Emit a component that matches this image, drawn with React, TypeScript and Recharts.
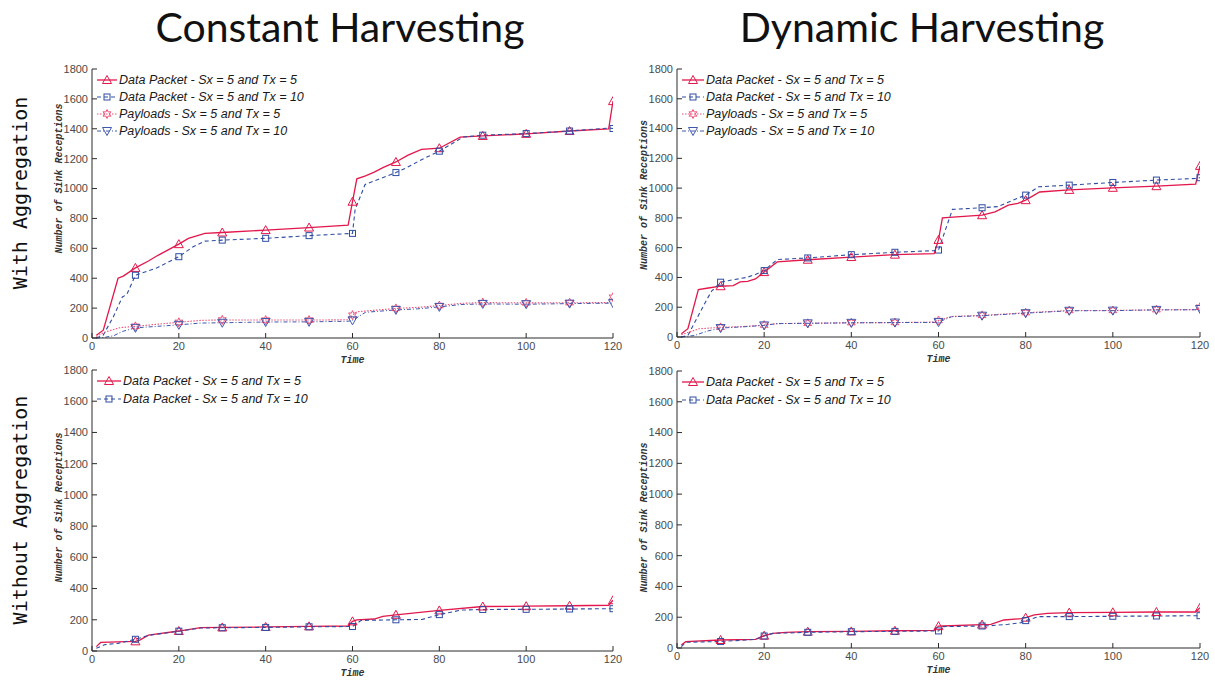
import { LineChart, Line, XAxis, YAxis, Label } from 'recharts';

type Pt = [number, number];

const RED = '#e3174b';
const BLUE = '#2f4ea3';
const PINK = '#f0527a';
const NAVY = '#3f58ad';
const AXIS = '#2b2b2b';

const xTicks = [0, 20, 40, 60, 80, 100, 120];
const yTicks = [0, 200, 400, 600, 800, 1000, 1200, 1400, 1600, 1800];

// Constant harvesting, with aggregation
const constAggPkt5: Pt[] = [[1, 18], [2.6, 52], [6, 400], [7.2, 414], [10, 469], [13, 515], [15.3, 555], [20, 628], [22.2, 666], [26, 700], [30, 706], [40, 722], [50, 739], [59, 755], [60, 912], [61, 1065], [63, 1085], [65, 1110], [67, 1140], [70, 1178], [72.8, 1224], [75.9, 1262], [80, 1270], [84.8, 1344], [90, 1352], [100, 1366], [110, 1385], [119, 1400], [120, 1585]];
const constAggPkt10: Pt[] = [[1, 0], [2.6, 20], [4.9, 141], [7, 275], [8, 290], [10, 420], [15, 470], [20, 544], [23.3, 611], [26, 648], [30, 655], [40, 667], [50, 685], [60, 700], [60.6, 860], [62.9, 1027], [70, 1107], [72.5, 1140], [76, 1195], [80, 1250], [85.5, 1345], [90, 1357], [100, 1368], [110, 1385], [119, 1405], [120, 1402]];
const constAggPay5: Pt[] = [[1, 10], [3, 40], [6.4, 69], [10, 78], [15, 92], [20, 105], [25, 118], [30, 121], [40, 120], [50, 120], [59, 122], [60, 153], [61, 176], [70, 198], [75, 205], [80, 217], [85, 232], [90, 237], [100, 235], [110, 236], [119, 237], [120, 273]];
const constAggPay10: Pt[] = [[1, 0], [3, 5], [5, 15], [7, 44], [10, 68], [15, 78], [20, 88], [25, 100], [30, 102], [40, 107], [50, 108], [59, 112], [60, 118], [63, 172], [70, 188], [75, 195], [80, 208], [85, 224], [90, 228], [100, 226], [110, 230], [119, 233], [120, 233]];

// Dynamic harvesting, with aggregation
const dynAggPkt5: Pt[] = [[1, 22], [2.5, 56], [4.9, 318], [7.2, 329], [10, 341], [12.9, 345], [14.5, 370], [16.2, 374], [18, 390], [20, 436], [23, 504], [30, 519], [40, 537], [50, 553], [59, 560], [60, 652], [60.9, 800], [70, 818], [73, 840], [76, 885], [78.2, 897], [80, 919], [83.2, 974], [90, 988], [100, 1002], [110, 1013], [119, 1027], [120, 1149]];
const dynAggPkt10: Pt[] = [[1, 0], [2.5, 10], [5, 150], [7, 260], [8, 310], [10, 368], [13, 385], [16, 400], [18, 420], [20, 446], [23, 520], [30, 531], [40, 553], [50, 569], [59, 580], [60, 584], [63.2, 857], [70, 868], [73.6, 876], [78, 930], [80, 953], [83, 1009], [90, 1020], [100, 1038], [110, 1054], [119, 1065], [120, 1070]];
const dynAggPay5: Pt[] = [[1, 15], [5, 55], [10, 65], [15, 70], [20, 80], [23, 90], [30, 92], [40, 96], [50, 97], [59, 100], [60, 111], [63, 138], [70, 145], [80, 163], [90, 178], [100, 178], [110, 183], [119, 184], [120, 200]];
const dynAggPay10: Pt[] = [[1, 0], [4, 10], [7, 40], [10, 60], [15, 68], [20, 78], [23, 90], [30, 92], [40, 95], [50, 97], [59, 98], [60, 100], [63, 136], [70, 143], [80, 160], [90, 176], [100, 177], [110, 182], [119, 183], [120, 188]];

// Constant harvesting, without aggregation
const constNoPkt5: Pt[] = [[1, 28], [2, 55], [10, 62], [11, 70], [13, 102], [20, 128], [25, 150], [30, 151], [40, 154], [50, 158], [59, 160], [60, 190], [61, 200], [65, 205], [67, 222], [70, 232], [80, 260], [90, 285], [100, 287], [110, 290], [119, 293], [120, 325]];
const constNoPkt10: Pt[] = [[1, 17], [3, 41], [6, 49], [10, 75], [13, 100], [20, 127], [25, 147], [30, 149], [40, 151], [50, 155], [60, 157], [62, 196], [70, 200], [76, 202], [80, 233], [85, 262], [90, 266], [100, 267], [110, 269], [120, 271]];

// Dynamic harvesting, without aggregation
const dynNoPkt5: Pt[] = [[1, 20], [2, 41], [10, 52], [18, 56], [20, 80], [22, 95], [25, 102], [30, 106], [40, 108], [50, 112], [59, 115], [60, 142], [61, 143], [70, 152], [72, 154], [75, 182], [79, 191], [80, 197], [82, 215], [85, 225], [90, 230], [100, 232], [110, 234], [119, 234], [120, 262]];
const dynNoPkt10: Pt[] = [[1, 9], [2, 37], [10, 42], [18, 56], [20, 78], [22, 95], [30, 102], [40, 106], [50, 108], [60, 111], [61, 139], [70, 143], [72, 145], [76, 154], [79, 165], [80, 178], [83, 204], [90, 204], [100, 206], [110, 208], [120, 210]];

type MarkerKind = 'tri' | 'sq' | 'hex' | 'tridown';

interface Series {
  name: string;
  data: Pt[];
  color: string;
  dash?: string;
  width: number;
  marker: MarkerKind;
}

const pkt5 = (data: Pt[]): Series => ({ name: 'Data Packet - Sx = 5 and Tx = 5', data, color: RED, width: 1.3, marker: 'tri' });
const pkt10 = (data: Pt[]): Series => ({ name: 'Data Packet - Sx = 5 and Tx = 10', data, color: BLUE, dash: '4 3', width: 1.1, marker: 'sq' });
const pay5 = (data: Pt[]): Series => ({ name: 'Payloads - Sx = 5 and Tx = 5', data, color: PINK, dash: '1.5 1.5', width: 1.1, marker: 'hex' });
const pay10 = (data: Pt[]): Series => ({ name: 'Payloads - Sx = 5 and Tx = 10', data, color: NAVY, dash: '4 2 1 2', width: 1, marker: 'tridown' });

function Marker({ kind, cx, cy, color }: { kind: MarkerKind; cx: number; cy: number; color: string }) {
  const common = { fill: 'none', stroke: color, strokeWidth: 1 };
  if (kind === 'tri') {
    return <polygon {...common} points={`${cx},${cy - 4.5} ${cx - 4.5},${cy + 3.5} ${cx + 4.5},${cy + 3.5}`} />;
  }
  if (kind === 'tridown') {
    return <polygon {...common} points={`${cx},${cy + 4.5} ${cx - 4.5},${cy - 3.5} ${cx + 4.5},${cy - 3.5}`} />;
  }
  if (kind === 'sq') {
    return <rect {...common} x={cx - 3} y={cy - 3} width={6} height={6} />;
  }
  // six-pointed star
  const pts: string[] = [];
  for (let i = 0; i < 12; i++) {
    const r = i % 2 === 0 ? 4.5 : 2.3;
    const a = (Math.PI / 6) * i - Math.PI / 2;
    pts.push(`${cx + r * Math.cos(a)},${cy + r * Math.sin(a)}`);
  }
  return <polygon {...common} points={pts.join(' ')} />;
}

const EmptyTick = () => <g />;

const tickStyle = { fill: '#4a4a4a', fontSize: 11, fontFamily: 'Liberation Sans, Arial, sans-serif' };
const axisLabelStyle = {
  fill: '#333',
  fontSize: 10,
  fontFamily: 'Liberation Mono, Courier New, monospace',
  fontStyle: 'italic',
  fontWeight: 'bold',
  textAnchor: 'middle' as const,
};

interface PanelProps {
  x: number;
  y: number;
  w: number;
  h: number;
  series: Series[];
  legendRow: number;
  legendLine: number;
  labelShift: number;
}

function Panel({ x, y, w, h, series, legendRow, legendLine, labelShift }: PanelProps) {
  const padL = 50;
  const padT = 10;
  const padR = 10;
  const padB = 36;

  // y-axis title, drawn rotated beside the tick labels
  const yTitle = () => {
    const lx = padL - 33;
    const ly = padT + h / 2 + labelShift;
    return (
      <text x={lx} y={ly} transform={`rotate(-90, ${lx}, ${ly})`} dominantBaseline="central" style={axisLabelStyle}>
        Number of Sink Receptions
      </text>
    );
  };

  return (
    <div style={{ position: 'absolute', left: x - padL, top: y - padT }}>
      <LineChart width={w + padL + padR} height={h + padT + padB} margin={{ top: padT, right: padR, bottom: 0, left: 0 }}>
        <XAxis xAxisId="b" dataKey="t" type="number" domain={[0, 120]} ticks={xTicks} interval={0}
          height={padB} tickSize={-5} tickMargin={9} stroke={AXIS} tick={tickStyle} allowDataOverflow>
          <Label value="Time" position="insideBottom" offset={11} style={axisLabelStyle} />
        </XAxis>
        <XAxis xAxisId="t" dataKey="t" type="number" domain={[0, 120]} ticks={xTicks} interval={0}
          orientation="top" height={0} tickSize={-5} stroke={AXIS} tick={EmptyTick} />
        <YAxis yAxisId="l" type="number" domain={[0, 1800]} ticks={yTicks} interval={0}
          width={padL} tickSize={-5} tickMargin={9} stroke={AXIS} tick={tickStyle}>
          <Label content={yTitle} />
        </YAxis>
        <YAxis yAxisId="r" type="number" domain={[0, 1800]} ticks={yTicks} interval={0}
          orientation="right" width={0} tickSize={-5} stroke={AXIS} tick={EmptyTick} />
        {series.map((s) => (
          <Line
            key={s.name}
            xAxisId="b"
            yAxisId="l"
            data={s.data.map(([t, v]) => ({ t, v }))}
            dataKey="v"
            type="linear"
            stroke={s.color}
            strokeWidth={s.width}
            strokeDasharray={s.dash}
            isAnimationActive={false}
            activeDot={false}
            dot={(p: any) =>
              p.payload.t % 10 === 0 ? (
                <Marker key={p.index} kind={s.marker} cx={p.cx} cy={p.cy} color={s.color} />
              ) : (
                <g key={p.index} />
              )
            }
          />
        ))}
      </LineChart>
      <div
        style={{
          position: 'absolute',
          left: padL + 5,
          top: padT + 2,
          fontFamily: 'Liberation Sans, Arial, sans-serif',
          fontStyle: 'italic',
          fontSize: 12.5,
          color: '#1a1a1a',
          whiteSpace: 'nowrap',
        }}
      >
        {series.map((s) => (
          <div key={s.name} style={{ display: 'flex', alignItems: 'center', height: legendRow }}>
            <svg width={legendLine} height={12} style={{ marginRight: 2 }}>
              <line x1={0} x2={legendLine} y1={6} y2={6} stroke={s.color} strokeWidth={s.width} strokeDasharray={s.dash} />
              <Marker kind={s.marker} cx={legendLine / 2} cy={6} color={s.color} />
            </svg>
            <span>{s.name}</span>
          </div>
        ))}
      </div>
    </div>
  );
}

const titleStyle = {
  position: 'absolute' as const,
  top: 2,
  fontFamily: 'Lato, Open Sans, sans-serif',
  fontSize: 41,
  color: '#111',
  textAlign: 'center' as const,
  width: 600,
};

const rowStyle = {
  position: 'absolute' as const,
  left: 20,
  fontFamily: 'DejaVu Sans Mono, monospace',
  fontSize: 20,
  color: '#111',
  whiteSpace: 'nowrap' as const,
  transform: 'translate(-50%, -50%) rotate(-90deg)',
};

export default function App() {
  return (
    <div style={{ position: 'absolute', left: 0, top: 0, width: 1215, height: 681, background: '#fff' }}>
      <div style={{ ...titleStyle, left: 340 - 300 }}>Constant Harvesting</div>
      <div style={{ ...titleStyle, left: 922 - 300 }}>Dynamic Harvesting</div>
      <div style={{ ...rowStyle, top: 193 }}>With Aggregation</div>
      <div style={{ ...rowStyle, top: 510 }}>Without Aggregation</div>
      <Panel x={92} y={69} w={521} h={269} legendRow={17} legendLine={20} labelShift={-25}
        series={[pkt5(constAggPkt5), pkt10(constAggPkt10), pay5(constAggPay5), pay10(constAggPay10)]} />
      <Panel x={677} y={69} w={523} h={268} legendRow={17} legendLine={22} labelShift={-8}
        series={[pkt5(dynAggPkt5), pkt10(dynAggPkt10), pay5(dynAggPay5), pay10(dynAggPay10)]} />
      <Panel x={92} y={370} w={521} h={281} legendRow={18} legendLine={24} labelShift={-3}
        series={[pkt5(constNoPkt5), pkt10(constNoPkt10)]} />
      <Panel x={677} y={371} w={523} h={277} legendRow={18} legendLine={22} labelShift={8}
        series={[pkt5(dynNoPkt5), pkt10(dynNoPkt10)]} />
    </div>
  );
}
